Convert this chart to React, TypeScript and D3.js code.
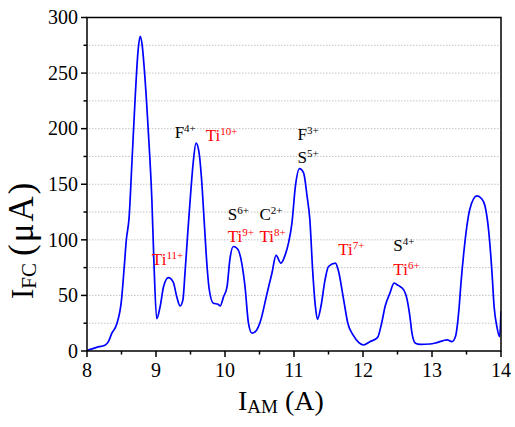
import React from 'react';
import * as d3 from 'd3';

// current sweep: I_AM (A) vs I_FC (µA)
const iam = [
  8.0, 8.14, 8.26, 8.31, 8.36, 8.43, 8.5, 8.54, 8.57, 8.61, 8.65, 8.7, 8.74, 8.77, 8.8,
  8.83, 8.89, 8.94, 8.97, 9.01, 9.06, 9.11, 9.18, 9.25, 9.3, 9.35, 9.39, 9.42, 9.46,
  9.5, 9.54, 9.58, 9.62, 9.66, 9.7, 9.74, 9.77, 9.83, 9.9, 9.93, 9.98, 10.03, 10.07,
  10.12, 10.18, 10.24, 10.29, 10.34, 10.39, 10.46, 10.51, 10.61, 10.68, 10.74, 10.81,
  10.87, 10.92, 10.97, 11.02, 11.08, 11.14, 11.19, 11.23, 11.27, 11.31, 11.34, 11.39,
  11.45, 11.5, 11.6, 11.64, 11.72, 11.78, 11.86, 11.94, 12.01, 12.1, 12.21, 12.27,
  12.32, 12.39, 12.45, 12.51, 12.59, 12.64, 12.68, 12.71, 12.76, 12.83, 12.97, 13.07,
  13.22, 13.29, 13.34, 13.39, 13.42, 13.46, 13.55, 13.65, 13.72, 13.77, 13.82, 13.87,
  13.9, 13.94, 13.98, 14.0,
];
const ifc = [
  0.5, 3.3, 5.2, 8.4, 16, 24, 46, 76, 100, 120, 168, 230, 270, 283, 275,
  254, 196, 136, 80, 29, 40, 58, 66, 62, 49, 40.5, 46, 70, 106,
  140, 170, 187, 180, 155, 115, 76, 56, 43, 42, 40.5, 49, 58, 82,
  94, 92, 80, 58, 25, 16, 19, 26, 52, 70, 86, 79,
  86, 97, 115, 148, 164, 160, 139, 118, 73, 40, 28.5, 40,
  64, 76, 79, 73, 46, 25, 14, 7.5, 5.4, 8.4, 12, 25,
  40, 52, 61, 59, 55, 46, 31, 16, 7, 6, 6.3, 7.5,
  10, 8.4, 13, 37, 61, 88, 128, 139.5, 137, 130, 109, 70,
  40, 22, 13, 36,
];

const xTicks = [8, 9, 10, 11, 12, 13, 14];
const yTicks = [0, 50, 100, 150, 200, 250, 300];
const gridValues = [25, 50, 75, 100, 125, 150, 175, 200, 225, 250, 275];

// ion labels: name, charge, colour, x (A), y (µA)
const ionNames = ['F', 'Ti', 'Ti', 'S', 'Ti', 'C', 'Ti', 'F', 'S', 'Ti', 'S', 'Ti'];
const ionCharges = ['4+', '10+', '11+', '6+', '9+', '2+', '8+', '3+', '5+', '7+', '4+', '6+'];
const ionRed = [false, true, true, false, true, false, true, false, false, true, false, true];
const ionX = [9.27, 9.72, 8.94, 10.04, 10.04, 10.5, 10.5, 11.05, 11.05, 11.64, 12.44, 12.44];
const ionY = [192, 189, 77, 118, 98, 118, 98, 190, 169, 86, 90, 68];

const W = 515;
const H = 427;
const m = { left: 87, right: 14, top: 17.5, bottom: 76 };
const serif = '"Liberation Serif", "Times New Roman", Times, "DejaVu Serif", serif';
const font = { fontFamily: serif };

export default function App() {
  const x = d3.scaleLinear().domain([8, 14]).range([m.left, W - m.right]);
  const y = d3.scaleLinear().domain([0, 300]).range([H - m.bottom, m.top]);

  const pts: [number, number][] = iam.map((v, i) => [v, ifc[i]]);
  const line = d3
    .line<[number, number]>()
    .x(d => x(d[0]))
    .y(d => y(d[1]))
    .curve(d3.curveMonotoneX);

  const x0 = x(8);
  const x1 = x(14);
  const y0 = y(0);
  const y1 = y(300);

  const minorX = d3.range(8.5, 14, 1);
  const minorY = d3.range(25, 300, 50);

  return (
    <svg width={W} height={H} style={{ position: 'absolute', left: 0, top: 0, background: '#fff' }}>
      {/* grid */}
      {gridValues.map(g => (
        <line key={'g' + g} x1={x0 + 2} x2={x1 - 2} y1={y(g)} y2={y(g)}
          stroke="#c4c4c4" strokeWidth={1} strokeDasharray="1.5 1.5" />
      ))}

      <clipPath id="plot">
        <rect x={x0} y={y1} width={x1 - x0} height={y0 - y1} />
      </clipPath>
      <path d={line(pts) ?? ''} fill="none" stroke="#0000ff" strokeWidth={1.7}
        clipPath="url(#plot)" strokeLinejoin="round" />

      {/* frame */}
      <rect x={x0} y={y1} width={x1 - x0} height={y0 - y1} fill="none" stroke="#000" strokeWidth={1.5} />

      {/* x ticks */}
      {xTicks.map(t => (
        <g key={'xt' + t}>
          <line x1={x(t)} x2={x(t)} y1={y0} y2={y0 + 6} stroke="#000" strokeWidth={1.5} />
          <text x={x(t)} y={y0 + 26} textAnchor="middle" style={font} fontSize={20}>{t}</text>
        </g>
      ))}
      {minorX.map(t => (
        <line key={'xm' + t} x1={x(t)} x2={x(t)} y1={y0} y2={y0 + 3.5} stroke="#000" strokeWidth={1.5} />
      ))}

      {/* y ticks */}
      {yTicks.map(t => (
        <g key={'yt' + t}>
          <line x1={x0 - 6} x2={x0} y1={y(t)} y2={y(t)} stroke="#000" strokeWidth={1.5} />
          <text x={x0 - 9} y={y(t)} dy="0.34em" textAnchor="end" style={font} fontSize={20}>{t}</text>
        </g>
      ))}
      {minorY.map(t => (
        <line key={'ym' + t} x1={x0 - 3.5} x2={x0} y1={y(t)} y2={y(t)} stroke="#000" strokeWidth={1.5} />
      ))}

      {/* ion labels */}
      {ionNames.map((n, i) => (
        <text key={'ion' + i} x={x(ionX[i])} y={y(ionY[i])} style={font} fontSize={17}
          fill={ionRed[i] ? '#ff0000' : '#000'}>
          {n}
          <tspan fontSize={11} dy={-6}>{ionCharges[i]}</tspan>
        </text>
      ))}

      {/* axis titles */}
      <text x={238} y={410} style={font} fontSize={28}>
        I<tspan fontSize={19} dy={3}>AM</tspan>
        <tspan dy={-3}> (A)</tspan>
      </text>
      <text transform="translate(33,299) rotate(-90)" style={font} fontSize={31}>
        I<tspan fontSize={21} dy={3}>FC</tspan>
        <tspan dy={-3} dx={7} fontSize={35} letterSpacing={2}>(μA)</tspan>
      </text>
    </svg>
  );
}
